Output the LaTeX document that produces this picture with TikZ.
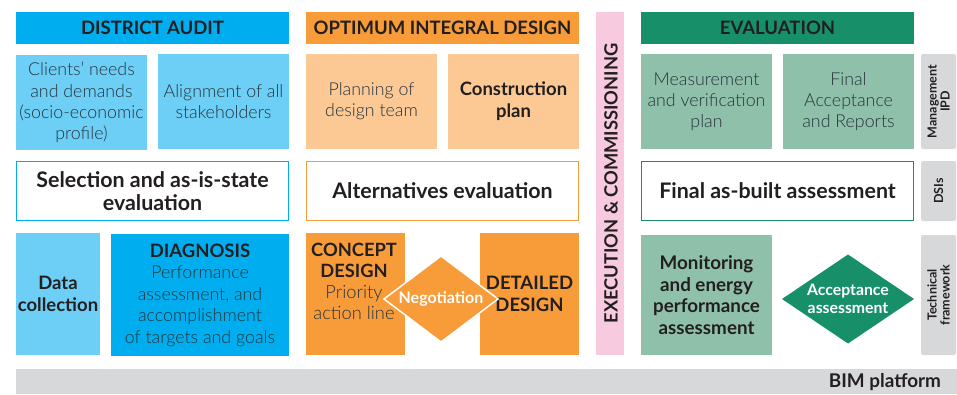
\documentclass[tikz,border=0pt]{standalone}
\usepackage{fontspec}
\setmainfont{Lato}
\newfontfamily\lightf{Lato Light}
\usetikzlibrary{shapes.geometric}
\definecolor{cyanD}{HTML}{00AEEF}
\definecolor{cyanL}{HTML}{6DCFF6}
\definecolor{orgD}{HTML}{F89C3A}
\definecolor{orgL}{HTML}{FCC995}
\definecolor{pinkL}{HTML}{F8CADF}
\definecolor{grnD}{HTML}{17906A}
\definecolor{grnL}{HTML}{8FC0A9}
\definecolor{grayL}{HTML}{D7D8DA}
\definecolor{txtD}{HTML}{231F20}
\definecolor{txtL}{HTML}{26343E}
\begin{document}
\begin{tikzpicture}[x=1pt,y=-1pt,
  box/.style={inner sep=0pt,outer sep=0pt,align=center,text=txtD},
  hdr/.style={box,minimum width=273pt,minimum height=32pt,font=\fontsize{18.5}{21}\selectfont\bfseries},
  lite/.style={font=\fontsize{17.8}{21.2}\selectfont\lightf,text=txtL},
  bold/.style={font=\fontsize{18.5}{21.7}\selectfont\bfseries},
  cell/.style={box,minimum width=131pt,minimum height=95pt},
  wide/.style={box,fill=white,line width=1.2pt,minimum width=272pt,minimum height=59pt,font=\fontsize{21.4}{23}\selectfont\bfseries},
  side/.style={box,fill=grayL,rounded corners=2pt,minimum width=35pt},
  sidetxt/.style={box,rotate=90,font=\fontsize{12.5}{13}\selectfont\bfseries},
  dia/.style={box,diamond,text=white,font=\fontsize{16}{18}\selectfont\bfseries}
]
\useasboundingbox (0,0) rectangle (957,394);
% headers
\node[hdr,fill=cyanD] (hda) at (152.5,28) {DISTRICT AUDIT};
\node[hdr,fill=orgD] (hoid) at (442.5,28) {OPTIMUM INTEGRAL DESIGN};
\node[hdr,fill=grnD] (hev) at (777.5,28) {EVALUATION};
% execution bar
\node[box,fill=pinkL,minimum width=28pt,minimum height=343pt] (exec) at (610,183.5) {};
\node[box,rotate=90,font=\fontsize{18.3}{20}\selectfont\bfseries] (exectxt) at (611,183.5) {EXECUTION \& COMMISSIONING};
% row 1
\node[cell,fill=cyanL,lite] (clients) at (81.5,102.5) {Clients’ needs\\and demands\\(socio-economic\\profile)};
\node[cell,fill=cyanL,lite] (align) at (223.5,101.5) {Alignment of all\\stakeholders};
\node[cell,fill=orgL,lite] (plan) at (371.5,101.5) {Planning of\\design team};
\node[cell,fill=orgL,bold] (cons) at (513.5,101.5) {Construction\\plan};
\node[cell,fill=grnL,lite] (meas) at (706.5,101.5) {Measurement\\and verification\\plan};
\node[cell,fill=grnL,lite] (facc) at (848.5,101.5) {Final\\Acceptance\\and Reports};
\node[side,minimum height=95pt] (mgmt) at (938.5,101.5) {};
\node[sidetxt] (mgmttxt) at (938.5,101.5) {Management\\IPD};
% row 2
\node[wide,draw=cyanD] (sel) at (152.5,191) {Selection and as-is-state\\evaluation};
\node[wide,draw=orgD] (alt) at (442.5,191) {Alternatives evaluation};
\node[wide,draw=grnD] (fab) at (777.5,191) {Final as-built assessment};
\node[side,minimum height=60pt] (dsi) at (938.5,191) {};
\node[sidetxt] (dsitxt) at (938.5,191) {DSIs};
% row 3
\node[box,fill=cyanL,minimum width=84pt,minimum height=122pt,bold] (data) at (58,294) {Data\\collection};
\node[box,fill=cyanD,minimum width=178pt,minimum height=122pt,font=\fontsize{17.8}{21.5}\selectfont] (diag) at (200,295) {{\fontsize{18.5}{21.5}\selectfont\bfseries DIAGNOSIS}\\
  {\lightf\color{txtL}Performance}\\{\lightf\color{txtL}assessment, and}\\{\lightf\color{txtL}accomplishment}\\{\lightf\color{txtL}of targets and goals}};
\node[box,fill=orgD,minimum width=99pt,minimum height=122pt] (concept) at (355.5,294) {};
\node[box,fill=orgD,minimum width=99pt,minimum height=122pt,bold] (detail) at (529.5,294) {DETAILED\\DESIGN};
\node[box,anchor=north,font=\fontsize{18.3}{21}\selectfont] (concepttxt) at (354,243) {{\bfseries CONCEPT}\\{\bfseries DESIGN}\\{\lightf\color{txtL}Priority}\\{\lightf\color{txtL}action line}};
\node[dia,fill=orgD,draw=white,line width=1.5pt,shape aspect=1.33,minimum width=114pt,minimum height=86pt] (nego) at (441,299) {Negotiation};
\node[box,fill=grnL,minimum width=131pt,minimum height=120pt,font=\fontsize{18.8}{21.7}\selectfont\bfseries] (monit) at (706.5,295) {Monitoring\\and energy\\performance\\assessment};
\node[dia,fill=grnD,shape aspect=1.48,minimum width=132pt,minimum height=89pt,font=\fontsize{15.8}{18}\selectfont\bfseries] (accept) at (848,299) {Acceptance\\assessment};
\node[side,minimum height=120pt] (tech) at (938.5,295) {};
\node[sidetxt] (techtxt) at (938.5,295) {Technical\\framework};
% BIM
\node[box,fill=grayL,minimum width=941pt,minimum height=25pt] (bim) at (486.5,381.5) {};
\node[box,anchor=east,font=\fontsize{18.9}{20}\selectfont\bfseries] (bimtxt) at (941,382.5) {BIM platform};
\end{tikzpicture}
\end{document}
